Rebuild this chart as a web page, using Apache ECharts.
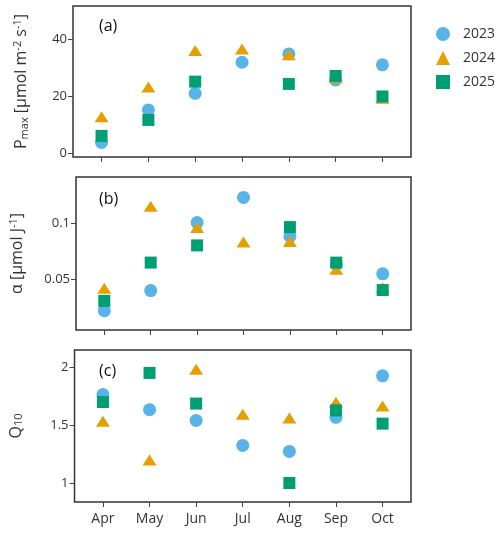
<!DOCTYPE html>
<html lang="en" style="height: 100%">
<head>
    <meta charset="UTF-8">
    <title>Pmax, alpha, Q10</title>
    <script src="https://cdn.jsdelivr.net/npm/echarts@6/dist/echarts.min.js"></script>
</head>
<body style="height: 100%; margin: 0">
<div id="main" style="width: 500px; height: 535px"></div>
<script>
    var months = ['Apr', 'May', 'Jun', 'Jul', 'Aug', 'Sep', 'Oct'];
    var years = ['2023', '2024', '2025'];

    // panel (a) Pmax
    var pmax2023 = [3.8, 15.2, 21.0, 31.9, 34.8, 25.7, 31.0];
    var pmax2024 = [12.8, 23.2, 36.0, 36.5, 34.5, 26.5, 19.3];
    var pmax2025 = [6.1, 11.7, 25.1, null, 24.3, 27.1, 19.9];

    // panel (b) alpha
    var alpha2023 = [0.0215, 0.0395, 0.1005, 0.123, 0.088, 0.063, 0.0545];
    var alpha2024 = [0.0417, 0.115, 0.096, 0.083, 0.0835, 0.0587, 0.042];
    var alpha2025 = [0.0303, 0.0646, 0.080, null, 0.0964, 0.0646, 0.040];

    // panel (c) Q10
    var q2023 = [1.767, 1.636, 1.543, 1.326, 1.274, 1.57, 1.93];
    var q2024 = [1.535, 1.20, 1.987, 1.596, 1.563, 1.70, 1.668];
    var q2025 = [1.703, 1.955, 1.689, null, 1.0, 1.63, 1.515];

    var yTicksA = [0, 20, 40];
    var yTicksB = [0.05, 0.1];
    var yTicksC = [1, 1.5, 2];

    var colors = ['#56B4E9', '#E69F00', '#009E73'];
    var symbols = ['circle', 'triangle', 'rect'];
    var sizes = [13, [14, 11], 12];
    var font = 'Open Sans';
    var monthIdx = months.map(function (m, i) { return i; });

    function toPoints(arr) {
        var out = [];
        arr.forEach(function (v, i) {
            if (v !== null) out.push([i, v]);
        });
        return out;
    }

    function xAxis(grid, showLabels) {
        return {
            type: 'value', gridIndex: grid, min: -0.61, max: 6.61, position: 'bottom',
            axisLine: {show: false, onZero: false},
            splitLine: {show: false},
            axisTick: {show: true, customValues: monthIdx, length: 5, lineStyle: {color: '#444', width: 1}},
            axisLabel: {
                show: showLabels, customValues: monthIdx, margin: 10,
                fontFamily: font, fontSize: 14, color: '#333',
                formatter: function (v) { return months[Math.round(v)]; }
            }
        };
    }

    function yAxis(grid, min, max, ticks, name, gap) {
        return {
            type: 'value', gridIndex: grid, min: min, max: max, position: 'left',
            axisLine: {show: false, onZero: false},
            splitLine: {show: false},
            axisTick: {show: true, customValues: ticks, length: 5, lineStyle: {color: '#444', width: 1}},
            axisLabel: {customValues: ticks, fontFamily: font, fontSize: 13, color: '#333', margin: 6},
            name: name, nameLocation: 'middle', nameRotate: 90, nameGap: gap,
            nameTextStyle: {
                fontFamily: font, fontSize: 16, color: '#333',
                rich: {
                    sub: {fontFamily: font, fontSize: 11, color: '#333', verticalAlign: 'bottom', padding: [6, 0, 0, 0]},
                    sup: {fontFamily: font, fontSize: 11, color: '#333', verticalAlign: 'top', padding: [0, 0, 7, 0]}
                }
            }
        };
    }

    var panels = [[pmax2023, pmax2024, pmax2025], [alpha2023, alpha2024, alpha2025], [q2023, q2024, q2025]];
    var series = [];
    panels.forEach(function (p, g) {
        p.forEach(function (arr, k) {
            series.push({
                name: years[k], type: 'scatter', xAxisIndex: g, yAxisIndex: g,
                symbol: symbols[k], symbolSize: sizes[k],
                itemStyle: {color: colors[k], opacity: 1},
                data: toPoints(arr)
            });
        });
    });

    var gridStyle = {show: true, borderColor: '#333', borderWidth: 1.5, backgroundColor: '#fff'};
    var option = {
        animation: false,
        backgroundColor: '#fff',
        title: [
            {text: '(a)', left: 94, top: 13, textStyle: {fontFamily: font, fontSize: 16, fontWeight: 'normal', color: '#111'}},
            {text: '(b)', left: 94, top: 186, textStyle: {fontFamily: font, fontSize: 16, fontWeight: 'normal', color: '#111'}},
            {text: '(c)', left: 94, top: 358, textStyle: {fontFamily: font, fontSize: 16, fontWeight: 'normal', color: '#111'}}
        ],
        legend: {
            data: years, orient: 'vertical', left: 431, top: 22,
            itemWidth: 14, itemHeight: 14, itemGap: 10,
            textStyle: {fontFamily: font, fontSize: 14, color: '#333', padding: [0, 0, 0, 8]}
        },
        grid: [
            Object.assign({left: 73, top: 6, width: 338, height: 151}, gridStyle),
            Object.assign({left: 73, top: 177, width: 338, height: 153}, gridStyle),
            Object.assign({left: 73, top: 350, width: 338, height: 152}, gridStyle)
        ],
        xAxis: [xAxis(0, false), xAxis(1, false), xAxis(2, true)],
        yAxis: [
            yAxis(0, -1.3, 51.6, yTicksA, 'P{sub|max} [μmol m{sup|-2} s{sup|-1}]', 43),
            yAxis(1, 0.0042, 0.1413, yTicksB, 'α [μmol J{sup|-1}]', 50),
            yAxis(2, 0.835, 2.154, yTicksC, 'Q{sub|10}', 50)
        ],
        series: series
    };

    var myChart = echarts.init(document.getElementById('main'));
    myChart.setOption(option);
</script>
</body>
</html>
